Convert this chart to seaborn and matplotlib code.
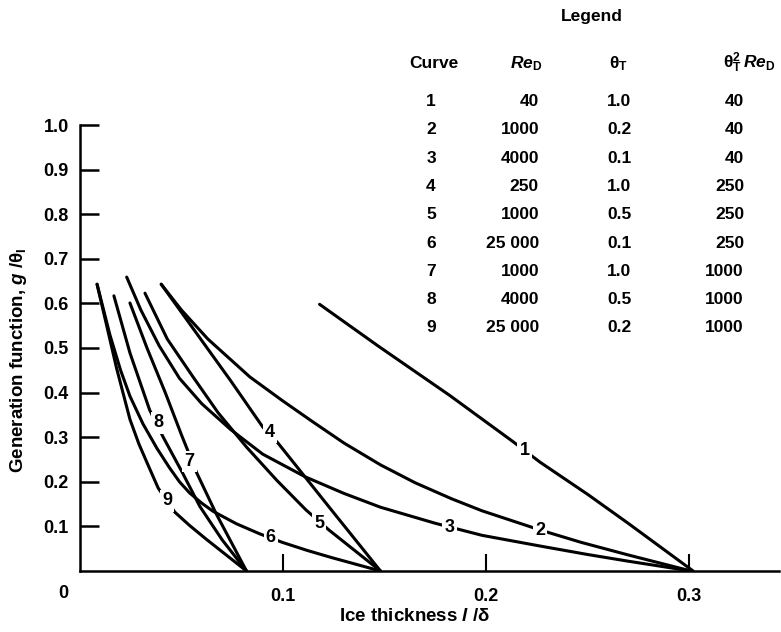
import numpy as np
import pandas as pd
import matplotlib
matplotlib.use("Agg")
import matplotlib.pyplot as plt
import seaborn as sns

# curves: x = ice thickness l/delta, y = g/theta_I
c1_x = [0.118, 0.147, 0.182, 0.213, 0.2266, 0.250, 0.270, 0.302]
c1_y = [0.598, 0.504, 0.394, 0.291, 0.244, 0.172, 0.107, 0.0]
c2_x = [0.040, 0.050, 0.063, 0.0837, 0.100, 0.1145, 0.130, 0.148, 0.165, 0.183, 0.198, 0.2266, 0.247, 0.270, 0.301]
c2_y = [0.643, 0.585, 0.520, 0.435, 0.381, 0.335, 0.287, 0.238, 0.198, 0.162, 0.135, 0.092, 0.064, 0.036, 0.0]
c3_x = [0.023, 0.030, 0.039, 0.049, 0.060, 0.074, 0.090, 0.111, 0.130, 0.148, 0.175, 0.198, 0.2266, 0.250, 0.270, 0.301]
c3_y = [0.659, 0.585, 0.505, 0.432, 0.375, 0.318, 0.262, 0.211, 0.174, 0.143, 0.107, 0.080, 0.056, 0.037, 0.022, 0.0]
c4_x = [0.040, 0.074, 0.090, 0.0975, 0.124, 0.148]
c4_y = [0.643, 0.428, 0.323, 0.287, 0.136, 0.0]
c5_x = [0.032, 0.043, 0.0557, 0.068, 0.082, 0.097, 0.1113, 0.1226, 0.148]
c5_y = [0.623, 0.520, 0.435, 0.355, 0.278, 0.203, 0.137, 0.092, 0.0]
c6_x = [0.0084, 0.0147, 0.020, 0.0246, 0.031, 0.0379, 0.044, 0.049, 0.054, 0.060, 0.0655, 0.077, 0.0887,
        0.0998, 0.112, 0.124, 0.136, 0.148]
c6_y = [0.643, 0.530, 0.450, 0.392, 0.330, 0.275, 0.232, 0.200, 0.175, 0.152, 0.134, 0.106, 0.083,
        0.064, 0.046, 0.030, 0.015, 0.0]
c7_x = [0.0246, 0.033, 0.042, 0.050, 0.0575, 0.067, 0.082]
c7_y = [0.601, 0.500, 0.400, 0.305, 0.220, 0.129, 0.0]
c8_x = [0.0167, 0.0246, 0.0343, 0.041, 0.0505, 0.059, 0.070, 0.082]
c8_y = [0.617, 0.489, 0.361, 0.300, 0.220, 0.145, 0.070, 0.0]
c9_x = [0.0084, 0.013, 0.018, 0.0246, 0.029, 0.033, 0.0385, 0.0467, 0.054, 0.062, 0.072, 0.082]
c9_y = [0.643, 0.553, 0.455, 0.340, 0.285, 0.243, 0.186, 0.132, 0.102, 0.072, 0.036, 0.0]

curve_names = ['1', '2', '3', '4', '5', '6', '7', '8', '9']
curve_xs = [c1_x, c2_x, c3_x, c4_x, c5_x, c6_x, c7_x, c8_x, c9_x]
curve_ys = [c1_y, c2_y, c3_y, c4_y, c5_y, c6_y, c7_y, c8_y, c9_y]

# where the curve numbers sit on the lines
label_x = [0.219, 0.2266, 0.182, 0.0936, 0.1177, 0.094, 0.054, 0.0384, 0.0428]
label_y = [0.271, 0.090, 0.098, 0.310, 0.107, 0.075, 0.245, 0.332, 0.157]

# legend table
re_d = ['40', '1000', '4000', '250', '1000', '25 000', '1000', '4000', '25 000']
theta_t = ['1.0', '0.2', '0.1', '1.0', '0.5', '0.1', '1.0', '0.5', '0.2']
theta2_re = ['40', '40', '40', '250', '250', '250', '1000', '1000', '1000']

x_ticks = [0.1, 0.2, 0.3]
x_ticklabels = ['0.1', '0.2', '0.3']
y_ticks = [0.1, 0.2, 0.3, 0.4, 0.5, 0.6, 0.7, 0.8, 0.9, 1.0]
y_ticklabels = ['0.1', '0.2', '0.3', '0.4', '0.5', '0.6', '0.7', '0.8', '0.9', '1.0']

rows = []
for name, xs, ys in zip(curve_names, curve_xs, curve_ys):
    for i, (x, y) in enumerate(zip(xs, ys)):
        rows.append({'curve': name, 'x': x, 'y': y, 'order': i})
df = pd.DataFrame(rows)

sns.set_theme(style="ticks")
plt.rcParams['font.family'] = ['Liberation Sans', 'DejaVu Sans']
plt.rcParams['font.weight'] = 'bold'
plt.rcParams['axes.labelweight'] = 'bold'
plt.rcParams['mathtext.fontset'] = 'custom'
plt.rcParams['mathtext.rm'] = 'Liberation Sans:bold'
plt.rcParams['mathtext.it'] = 'Liberation Sans:italic:bold'
plt.rcParams['mathtext.bf'] = 'Liberation Sans:bold'
plt.rcParams['text.color'] = 'black'

W, H = 781, 632
fig = plt.figure(figsize=(W / 100, H / 100), dpi=100)
ax = fig.add_axes([80 / W, 61 / H, 699 / W, 446 / H])

sns.lineplot(data=df, x='x', y='y', units='curve', estimator=None, sort=False,
             color='black', linewidth=2.2, legend=False, ax=ax)

for s, x, y in zip(curve_names, label_x, label_y):
    ax.text(x, y, s, ha='center', va='center', fontsize=13, color='black',
            bbox=dict(facecolor='white', edgecolor='none', pad=1.5))

ax.set_xlim(0, 0.3443)
ax.set_ylim(0, 1.0)
sns.despine(ax=ax)
for side in ['left', 'bottom']:
    ax.spines[side].set_linewidth(1.8)
    ax.spines[side].set_color('black')

ax.set_xticks(x_ticks)
ax.set_xticklabels(x_ticklabels)
ax.set_yticks(y_ticks)
ax.set_yticklabels(y_ticklabels)
ax.tick_params(axis='y', direction='in', length=14, width=1.8, pad=8, labelsize=13, colors='black')
ax.tick_params(axis='x', direction='in', length=12, width=1.5, pad=12, labelsize=13, colors='black')

ax.set_xlabel(r'Ice thickness $\mathit{l}$ /δ', fontsize=13.5, color='black')
ax.xaxis.set_label_coords(0.478, -0.083)
ax.set_ylabel(r'Generation function, $\mathit{g}$ /$\mathrm{\theta}_\mathrm{I}$', fontsize=13.5, color='black')
ax.yaxis.set_label_coords(-0.073, 0.473)

fig.text(63 / W, 1 - 593 / H, '0', ha='center', va='center', fontsize=13)

# legend table in figure pixels
def fx(px):
    return px / W

def fy(py):
    return 1 - py / H

fs = 12.5
fig.text(fx(592), fy(17), 'Legend', ha='center', va='center', fontsize=fs)
hb = fy(68)
fig.text(fx(434), hb, 'Curve', ha='center', va='baseline', fontsize=fs)
fig.text(fx(542), hb, r'$\mathit{Re}_\mathrm{D}$', ha='right', va='baseline', fontsize=fs)
fig.text(fx(618), hb, r'$\mathrm{\theta}_\mathrm{T}$', ha='center', va='baseline', fontsize=fs)
fig.text(fx(775), hb, r'$\mathrm{\theta}_\mathrm{T}^2\,\mathit{Re}_\mathrm{D}$', ha='right', va='baseline', fontsize=fs)
for i in range(len(curve_names)):
    b = fy(100 + 28.3 * i + 6)
    fig.text(fx(431), b, curve_names[i], ha='center', va='baseline', fontsize=fs)
    fig.text(fx(539), b, re_d[i], ha='right', va='baseline', fontsize=fs)
    fig.text(fx(619), b, theta_t[i], ha='center', va='baseline', fontsize=fs)
    fig.text(fx(744), b, theta2_re[i], ha='right', va='baseline', fontsize=fs)

fig.savefig('out.png', dpi=100)
